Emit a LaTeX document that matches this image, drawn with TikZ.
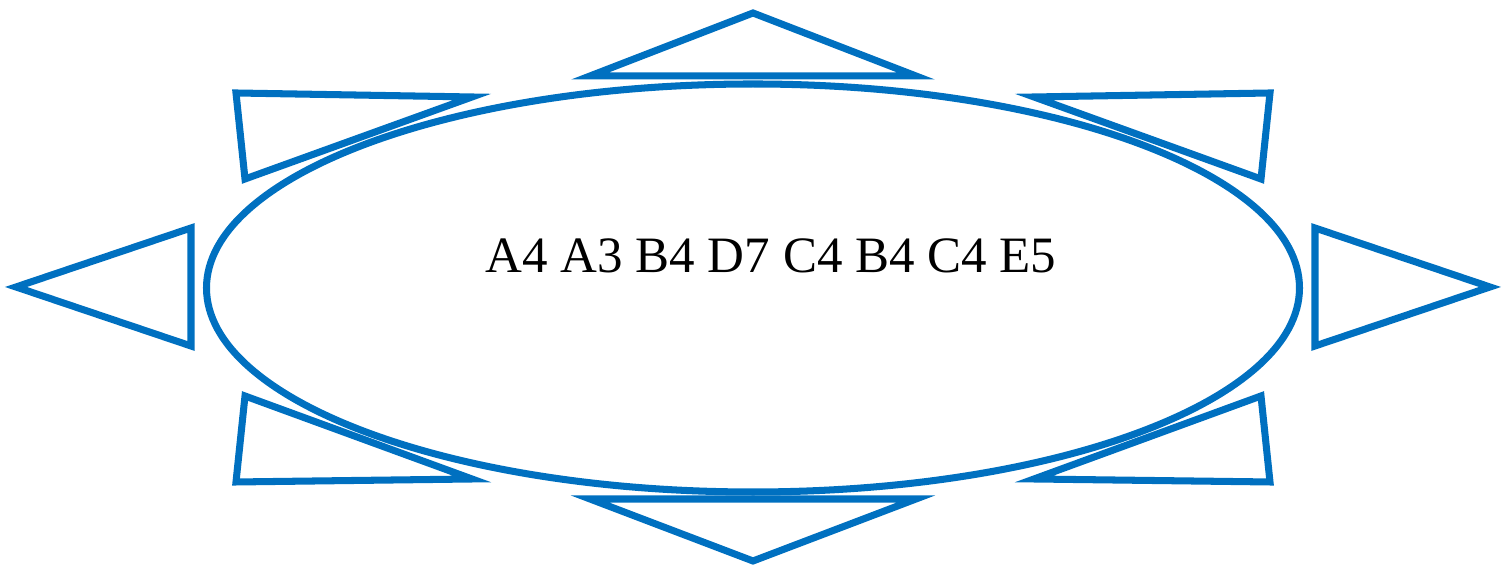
\documentclass[tikz,border=0pt]{standalone}
\usepackage{fontspec}
\setmainfont{Liberation Serif}
\definecolor{sunblue}{HTML}{0070C0}
\begin{document}
\begin{tikzpicture}[x=0.01cm,y=-0.01cm,
  shapeline/.style={draw=sunblue,line width=2pt,line join=miter}]
\useasboundingbox (0,0) rectangle (1511,568);
% ellipse
\draw[shapeline] (753,288) ellipse [x radius=546.5,y radius=204];
% triangles
\draw[shapeline] (753,13) -- (590,76) -- (916,76) -- cycle;
\draw[shapeline] (753,561) -- (590,499) -- (916,499) -- cycle;
\draw[shapeline] (16,287) -- (191,228) -- (191,346) -- cycle;
\draw[shapeline] (1490,287) -- (1315,228) -- (1315,346) -- cycle;
\draw[shapeline] (236,93) -- (472,97) -- (245,179) -- cycle;
\draw[shapeline] (1270,93) -- (1034,97) -- (1261,179) -- cycle;
\draw[shapeline] (245,396) -- (472,479) -- (236,482) -- cycle;
\draw[shapeline] (1261,396) -- (1034,479) -- (1270,482) -- cycle;
\node[anchor=base,inner sep=0pt,font=\fontsize{14.5}{17}\selectfont] (label) at (771,273) {A4 A3 B4 D7 C4 B4 C4 E5};
\end{tikzpicture}
\end{document}
